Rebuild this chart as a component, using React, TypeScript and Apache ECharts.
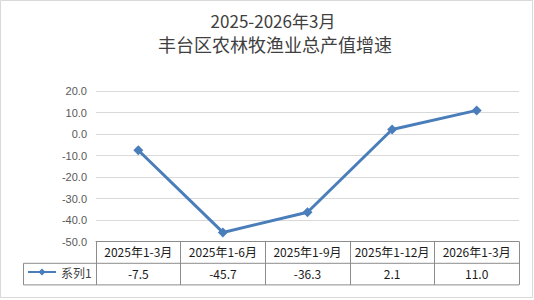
import React, { useEffect, useRef } from "react";
import * as echarts from "echarts";

const titleLine1 = "2025-2026年3月";
const titleLine2 = "丰台区农林牧渔业总产值增速";
const seriesName = "系列1";
const categories = ["2025年1-3月", "2025年1-6月", "2025年1-9月", "2025年1-12月", "2026年1-3月"];
const values = [-7.5, -45.7, -36.3, 2.1, 11.0];
const yMin = -50;
const yMax = 20;
const yInterval = 10;

const CJK = "'Noto Sans CJK SC', 'Liberation Sans', sans-serif";
const BORDER = "#8c8c8c";

export default function App() {
  const ref = useRef<HTMLDivElement>(null);
  useEffect(() => {
    if (!ref.current) return;
    const chart = echarts.init(ref.current, undefined, { renderer: "svg" });
    const gridLeft = 96;
    const gridRight = 519;
    const gridBottomY = 241.7;
    const rowH = 21.6;
    const legendLeft = 23.5;
    chart.setOption({
      animation: false,
      backgroundColor: "#ffffff",
      grid: { left: gridLeft, right: 534 - gridRight, top: 91, bottom: 300 - gridBottomY },
      legend: {
        left: 27,
        top: 266,
        padding: 0,
        itemWidth: 28,
        itemHeight: 9,
        textStyle: { fontSize: 12, color: "#404040", fontFamily: CJK },
        data: [seriesName],
      },
      xAxis: [
        {
          type: "category",
          data: categories,
          boundaryGap: true,
          position: "bottom",
          axisLine: { show: true, onZero: false, lineStyle: { color: BORDER, width: 1 } },
          axisTick: { show: true, interval: 0, length: rowH * 2, lineStyle: { color: BORDER, width: 1 } },
          axisLabel: { interval: 0, margin: 4, fontSize: 12, color: "#1a1a1a", fontFamily: CJK },
          splitLine: { show: false },
        },
        {
          type: "category",
          data: values.map((v) => v.toFixed(1)),
          boundaryGap: true,
          position: "bottom",
          offset: rowH,
          axisLine: { show: false, onZero: false },
          axisTick: { show: false },
          axisLabel: { interval: 0, margin: 4, fontSize: 12, color: "#1a1a1a", fontFamily: CJK },
          splitLine: { show: false },
        },
      ],
      yAxis: {
        type: "value",
        min: yMin,
        max: yMax,
        interval: yInterval,
        axisLine: { show: false },
        axisTick: { show: false },
        axisLabel: {
          margin: 9,
          fontSize: 11,
          color: "#595959",
          fontFamily: "'Liberation Sans', sans-serif",
          formatter: (v: number) => v.toFixed(1),
        },
        splitLine: { show: true, lineStyle: { color: "#d9d9d9", width: 1 } },
      },
      series: [
        {
          name: seriesName,
          type: "line",
          xAxisIndex: 0,
          data: values,
          symbol: "diamond",
          symbolSize: 10,
          itemStyle: { color: "#4A7EBB" },
          lineStyle: { color: "#4A7EBB", width: 3 },
        },
      ],
      graphic: [
        {
          type: "rect",
          shape: { x: 0.5, y: 0.5, width: 532, height: 297 },
          style: { fill: "none", stroke: "#d9d9d9", lineWidth: 1 },
          silent: true,
        },
        {
          type: "text",
          x: 273,
          y: 20,
          style: {
            text: titleLine1,
            align: "center",
            verticalAlign: "middle",
            fontSize: 17,
            fill: "#404040",
            fontFamily: CJK,
          },
        },
        {
          type: "text",
          x: 275,
          y: 43.5,
          style: {
            text: titleLine2,
            align: "center",
            verticalAlign: "middle",
            fontSize: 18,
            fill: "#404040",
            fontFamily: CJK,
          },
        },
        {
          type: "line",
          shape: { x1: legendLeft, y1: gridBottomY + rowH, x2: gridRight, y2: gridBottomY + rowH },
          style: { stroke: BORDER, lineWidth: 1 },
        },
        {
          type: "line",
          shape: { x1: legendLeft, y1: gridBottomY + rowH * 2, x2: gridRight, y2: gridBottomY + rowH * 2 },
          style: { stroke: BORDER, lineWidth: 1 },
        },
        {
          type: "line",
          shape: { x1: legendLeft, y1: gridBottomY + rowH, x2: legendLeft, y2: gridBottomY + rowH * 2 },
          style: { stroke: BORDER, lineWidth: 1 },
        },
      ],
    });
    return () => chart.dispose();
  }, []);
  return <div ref={ref} style={{ position: "absolute", left: 0, top: 0, width: 534, height: 300 }} />;
}
